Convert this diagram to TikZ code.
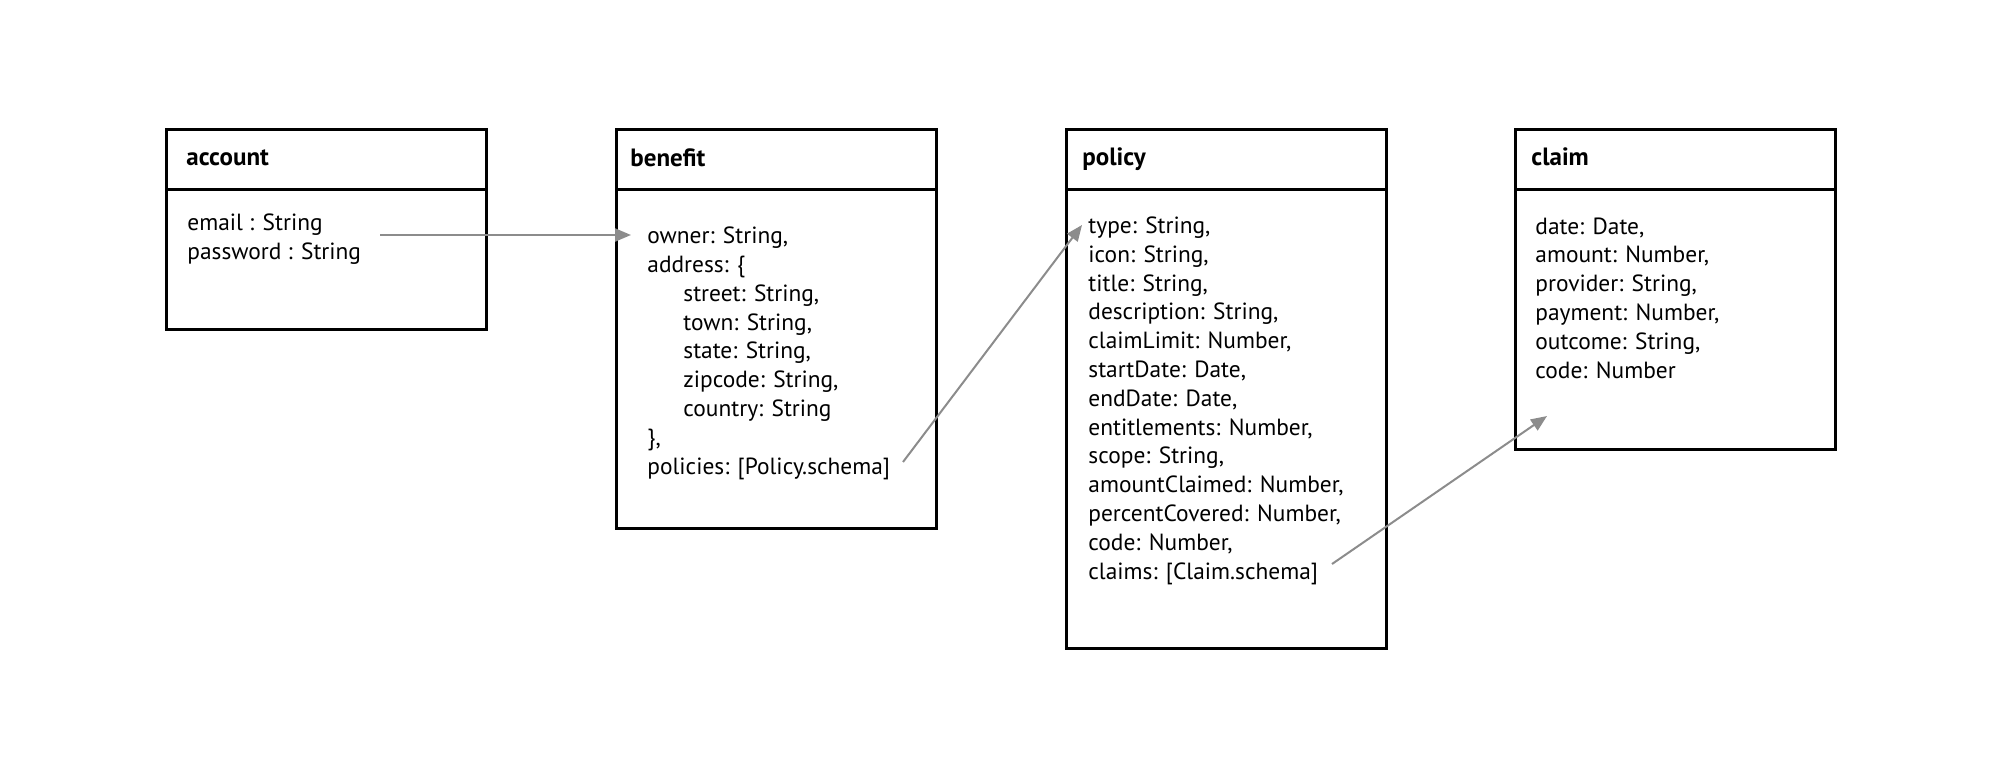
\documentclass[tikz,border=0pt]{standalone}
\usepackage{fontspec}
\setmainfont{PT Sans}
\usetikzlibrary{arrows.meta}

\definecolor{linkgray}{HTML}{8C8C8C}
\tikzset{
  tblhead/.style={draw, line width=1.5pt, anchor=north west, inner sep=0pt,
    minimum width=160pt, minimum height=30pt},
  tblbody/.style={draw, line width=1.5pt, anchor=north west, inner sep=0pt,
    minimum width=160pt},
  tbltitle/.style={anchor=base west, inner sep=0pt, font=\fontsize{12.5}{14}\selectfont\bfseries},
  % base west of a multi-line node = baseline of its last line
  tblfields/.style={anchor=base west, inner sep=0pt, align=left,
    font=\fontsize{11.7}{14.4}\selectfont},
  link/.style={draw=linkgray, line width=1pt, -{Triangle[length=8pt,width=6.5pt]}}
}
\newcommand{\ind}{\hspace*{18pt}}

\begin{document}
\begin{tikzpicture}[x=0.5pt,y=-0.5pt]
   \useasboundingbox (0,0) rectangle (2000,776);

   % account
   \node[tblhead] (accountH) at (165,128) {};
   \node[tblbody, minimum height=70pt] (account) at (165,188) {};
   \node[tbltitle] (accountT) at (186,165) {account};
   \node[tblfields] (accountF) at (187,259)
     {email : String\\password : String};

   % benefit
   \node[tblhead] (benefitH) at (615,128) {};
   \node[tblbody, minimum height=169.5pt] (benefit) at (615,188) {};
   \node[tbltitle] (benefitT) at (630,166) {benefit};
   \node[tblfields] (benefitF) at (647,474)
     {owner: String,\\
      address: \{\\
      \ind street: String,\\
      \ind town: String,\\
      \ind state: String,\\
      \ind zipcode: String,\\
      \ind country: String\\
      \},\\
      policies: [Policy.schema]};

   % policy
   \node[tblhead] (policyH) at (1065,128) {};
   \node[tblbody, minimum height=229.5pt] (policy) at (1065,188) {};
   \node[tbltitle] (policyT) at (1082,165) {policy};
   \node[tblfields] (policyF) at (1088,579)
     {type: String,\\
      icon: String,\\
      title: String,\\
      description: String,\\
      claimLimit: Number,\\
      startDate: Date,\\
      endDate: Date,\\
      entitlements: Number,\\
      scope: String,\\
      amountClaimed: Number,\\
      percentCovered: Number,\\
      code: Number,\\
      claims: [Claim.schema]};

   % claim
   \node[tblhead] (claimH) at (1514,128) {};
   \node[tblbody, minimum height=130pt] (claim) at (1514,188) {};
   \node[tbltitle] (claimT) at (1531,165) {claim};
   \node[tblfields] (claimF) at (1535,378)
     {date: Date,\\
      amount: Number,\\
      provider: String,\\
      payment: Number,\\
      outcome: String,\\
      code: Number};

   % links
   \coordinate (accountOut) at (380,235);
   \coordinate (benefitIn) at (631,235);
   \coordinate (benefitOut) at (903,462);
   \coordinate (policyIn) at (1082,225);
   \coordinate (policyOut) at (1332,564);
   \coordinate (claimIn) at (1547,416);
   \draw[link] (accountOut) -- (benefitIn);
   \draw[link] (benefitOut) -- (policyIn);
   \draw[link] (policyOut) -- (claimIn);
\end{tikzpicture}
\end{document}
